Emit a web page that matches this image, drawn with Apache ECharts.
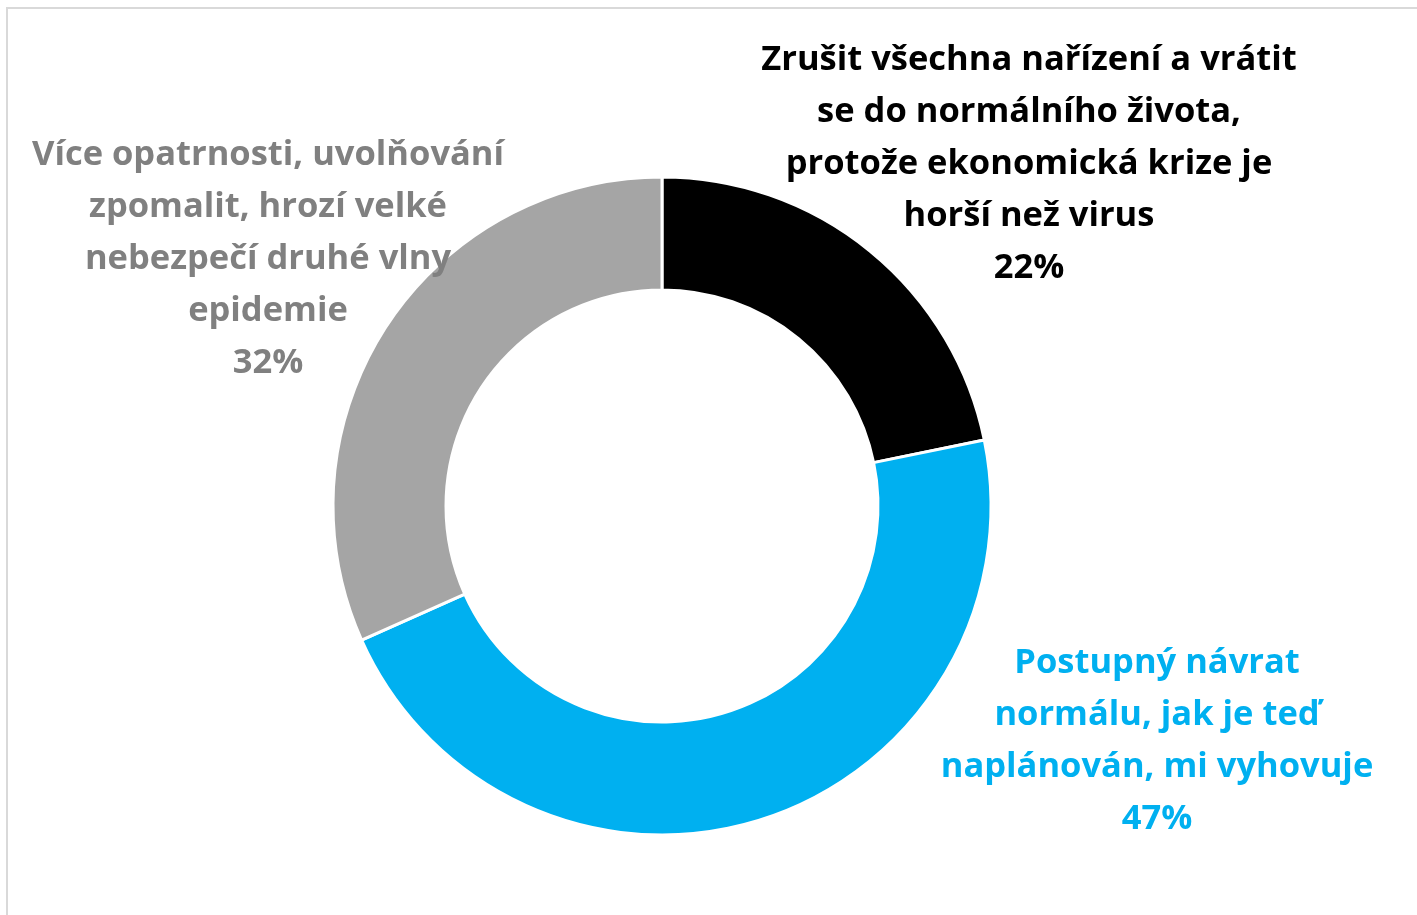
<!DOCTYPE html>
<html>
<head>
<meta charset="utf-8">
<script src="https://cdn.jsdelivr.net/npm/echarts@6/dist/echarts.min.js"></script>
<style>
  html, body { margin: 0; padding: 0; background: #fff; }
  #main { width: 1417px; height: 915px; }
</style>
</head>
<body>
<div id="main"></div>
<script>
// odpovědi (pořadí jako v grafu, po směru hodinových ručiček od 12 h)
const categories = [
  'Zrušit všechna nařízení a vrátit\nse do normálního života,\nprotože ekonomická krize je\nhorší než virus',
  'Postupný návrat\nnormálu, jak je teď\nnaplánován, mi vyhovuje',
  'Více opatrnosti, uvolňování\nzpomalit, hrozí velké\nnebezpečí druhé vlny\nepidemie'
];
const values = [22, 47, 32];
const colors = ['#000000', '#00B0F0', '#A5A5A5'];
const textColors = ['#000000', '#00B0F0', '#808080'];
// umístění popisků (střed textu, horní hrana)
const labelPos = [[1029, 34], [1157, 637], [268, 129]];

const myChart = echarts.init(document.getElementById('main'));
myChart.setOption({
  animation: false,
  graphic: [{
    type: 'rect',
    shape: { x: 7, y: 8, width: 1500, height: 1000 },
    style: { fill: 'none', stroke: '#d9d9d9', lineWidth: 2 },
    silent: true
  }],
  series: [{
    type: 'pie',
    center: [662, 506],
    radius: [216, 329],
    startAngle: 90,
    clockwise: true,
    itemStyle: { borderColor: '#fff', borderWidth: 3 },
    labelLine: { show: false },
    label: {
      show: true,
      formatter: p => p.name + '\n' + p.value + '%',
      fontFamily: 'Open Sans',
      fontWeight: 'bold',
      fontSize: 34.5,
      lineHeight: 52,
      align: 'center',
      overflow: 'none',
      width: 700
    },
    labelLayout: p => ({
      x: labelPos[p.dataIndex][0],
      y: labelPos[p.dataIndex][1],
      align: 'center',
      verticalAlign: 'top'
    }),
    data: values.map((v, i) => ({
      name: categories[i],
      value: v,
      itemStyle: { color: colors[i] },
      label: { color: textColors[i] }
    }))
  }]
});
</script>
</body>
</html>
